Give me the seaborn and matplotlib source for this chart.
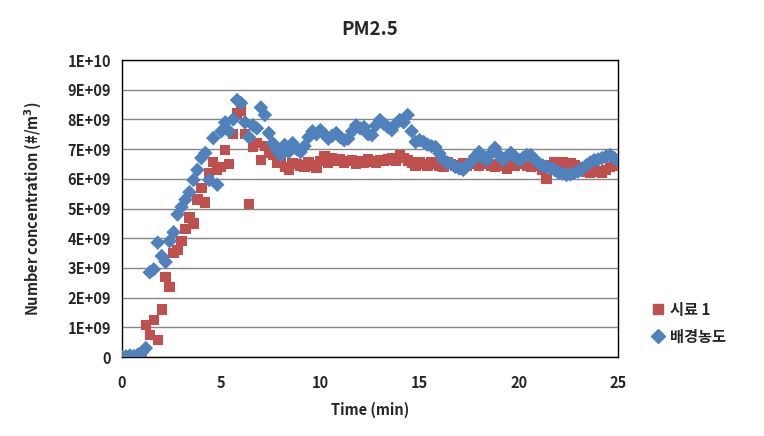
import numpy as np
import pandas as pd
import matplotlib
matplotlib.use("Agg")
import matplotlib.pyplot as plt
from matplotlib.ticker import FuncFormatter, MultipleLocator
from matplotlib.lines import Line2D
import seaborn as sns

# ---- data (concentration in units of 1E+09 #/m3) ----
time_min = [
    0.0, 0.2, 0.4, 0.6, 0.8, 1.0, 1.2, 1.4, 1.6, 1.8,
    2.0, 2.2, 2.4, 2.6, 2.8, 3.0, 3.2, 3.4, 3.6, 3.8,
    4.0, 4.2, 4.4, 4.6, 4.8, 5.0, 5.2, 5.4, 5.6, 5.8,
    6.0, 6.2, 6.4, 6.6, 6.8, 7.0, 7.2, 7.4, 7.6, 7.8,
    8.0, 8.2, 8.4, 8.6, 8.8, 9.0, 9.2, 9.4, 9.6, 9.8,
    10.0, 10.2, 10.4, 10.6, 10.8, 11.0, 11.2, 11.4, 11.6, 11.8,
    12.0, 12.2, 12.4, 12.6, 12.8, 13.0, 13.2, 13.4, 13.6, 13.8,
    14.0, 14.2, 14.4, 14.6, 14.8, 15.0, 15.2, 15.4, 15.6, 15.8,
    16.0, 16.2, 16.4, 16.6, 16.8, 17.0, 17.2, 17.4, 17.6, 17.8,
    18.0, 18.2, 18.4, 18.6, 18.8, 19.0, 19.2, 19.4, 19.6, 19.8,
    20.0, 20.2, 20.4, 20.6, 20.8, 21.0, 21.2, 21.4, 21.6, 21.8,
    22.0, 22.2, 22.4, 22.6, 22.8, 23.0, 23.2, 23.4, 23.6, 23.8,
    24.0, 24.2, 24.4, 24.6, 24.8, 25.0,
]

sample1 = [
    0.00, 0.02, 0.00, 0.03, 0.05, 0.08, 1.08, 0.75, 1.25, 0.57,
    1.60, 2.70, 2.36, 3.50, 3.60, 3.90, 4.30, 4.70, 4.50, 5.30,
    5.70, 5.20, 6.20, 6.57, 6.30, 6.40, 6.97, 6.50, 7.50, 8.20,
    8.30, 7.50, 5.15, 7.07, 7.20, 6.63, 7.10, 6.87, 6.80, 6.53,
    6.60, 6.40, 6.30, 6.53, 6.50, 6.45, 6.40, 6.55, 6.45, 6.36,
    6.60, 6.75, 6.55, 6.70, 6.60, 6.65, 6.55, 6.60, 6.62, 6.50,
    6.60, 6.55, 6.65, 6.58, 6.55, 6.62, 6.60, 6.65, 6.70, 6.60,
    6.80, 6.70, 6.62, 6.55, 6.45, 6.55, 6.50, 6.45, 6.55, 6.50,
    6.45, 6.40, 6.55, 6.50, 6.45, 6.40, 6.52, 6.45, 6.50, 6.55,
    6.42, 6.50, 6.55, 6.45, 6.40, 6.48, 6.45, 6.35, 6.50, 6.45,
    6.55, 6.50, 6.45, 6.40, 6.50, 6.45, 6.30, 6.00, 6.45, 6.55,
    6.50, 6.55, 6.48, 6.52, 6.45, 6.40, 6.30, 6.25, 6.20, 6.30,
    6.25, 6.20, 6.30, 6.40, 6.45, 6.50,
]

background = [
    0.00, 0.02, 0.05, 0.03, 0.08, 0.15, 0.30, 2.85, 2.95, 3.85,
    3.40, 3.20, 3.90, 4.20, 4.80, 5.05, 5.30, 5.55, 5.96, 6.30,
    6.70, 6.87, 5.96, 7.37, 5.80, 7.60, 7.90, 7.60, 8.00, 8.65,
    8.55, 7.90, 7.40, 7.80, 7.70, 8.40, 8.15, 7.54, 7.20, 6.97,
    6.80, 7.14, 6.90, 7.20, 7.00, 6.90, 7.10, 7.40, 7.60, 7.50,
    7.64, 7.50, 7.35, 7.45, 7.54, 7.40, 7.30, 7.35, 7.60, 7.80,
    7.70, 7.74, 7.50, 7.47, 7.80, 7.98, 7.85, 7.74, 7.64, 7.85,
    7.98, 7.90, 8.15, 7.60, 7.24, 7.30, 7.24, 7.15, 7.10, 7.07,
    6.85, 6.63, 6.55, 6.50, 6.40, 6.35, 6.30, 6.45, 6.57, 6.75,
    6.90, 6.70, 6.63, 6.85, 7.04, 6.80, 6.63, 6.75, 6.87, 6.75,
    6.63, 6.70, 6.80, 6.80, 6.65, 6.53, 6.45, 6.40, 6.36, 6.30,
    6.20, 6.18, 6.13, 6.15, 6.20, 6.25, 6.35, 6.45, 6.55, 6.63,
    6.65, 6.70, 6.75, 6.80, 6.70, 6.60,
]

series_names = ["시료 1", "배경농도"]
y_tick_labels = ["0", "1E+09", "2E+09", "3E+09", "4E+09", "5E+09",
                 "6E+09", "7E+09", "8E+09", "9E+09", "1E+10"]

df = pd.DataFrame({
    "time": time_min * 2,
    "conc": [v * 1e9 for v in sample1] + [v * 1e9 for v in background],
    "series": [series_names[0]] * len(time_min) + [series_names[1]] * len(time_min),
})

# ---- style ----
sns.set_style("white")
plt.rcParams["font.family"] = ["Noto Sans CJK KR", "DejaVu Sans"]
plt.rcParams["font.weight"] = "bold"

red = "#C0504D"
blue = "#4F81BD"

fig = plt.figure(figsize=(7.64, 4.36), dpi=100)
ax = fig.add_axes([122 / 764, 1 - 357 / 436, (618 - 122) / 764, (357 - 60) / 436])

sns.scatterplot(
    data=df, x="time", y="conc", hue="series", style="series",
    palette={series_names[0]: red, series_names[1]: blue},
    markers={series_names[0]: "s", series_names[1]: "D"},
    s=55, linewidth=0, legend=False, ax=ax, zorder=3,
)

ax.set_xlim(0, 25)
ax.set_ylim(0, 1e10)
ax.xaxis.set_major_locator(MultipleLocator(5))
ax.xaxis.set_minor_locator(MultipleLocator(1))
ax.yaxis.set_major_locator(MultipleLocator(1e9))
ax.yaxis.set_major_formatter(FuncFormatter(lambda v, p: y_tick_labels[int(round(v / 1e9))]
                                           if 0 <= int(round(v / 1e9)) < len(y_tick_labels) else ""))

ax.grid(axis="y", color="#868686", linewidth=1.0, zorder=0)
ax.set_axisbelow(True)
for sp in ax.spines.values():
    sp.set_color("black")
    sp.set_linewidth(1.0)
    sp.set_visible(True)

ax.tick_params(axis="x", which="both", direction="in", length=5, width=1, color="#555555",
               labelsize=10.5, pad=13)
ax.tick_params(axis="y", which="both", length=0, labelsize=10.5, pad=8)
for lab in ax.get_xticklabels() + ax.get_yticklabels():
    lab.set_fontweight("bold")

ax.set_xlabel("Time (min)", fontsize=10.5, fontweight="bold", labelpad=8)
ax.set_ylabel("Number concentration (#/m$^{\\mathbf{3}}$)", fontsize=10.5, fontweight="bold", labelpad=17)
ax.set_title("PM2.5", fontsize=13.5, fontweight="bold", pad=18)

handles = [
    Line2D([], [], linestyle="none", marker="s", markersize=7.5, color=red, label=series_names[0]),
    Line2D([], [], linestyle="none", marker="D", markersize=7, color=blue, label=series_names[1]),
]
fig.legend(handles=handles, loc="upper left", bbox_to_anchor=(638 / 764, 1 - 288 / 436),
           frameon=False, prop={"size": 11, "weight": "bold"}, handlelength=0.8,
           handletextpad=0.4, labelspacing=0.7)

fig.savefig("out.png", dpi=100)
